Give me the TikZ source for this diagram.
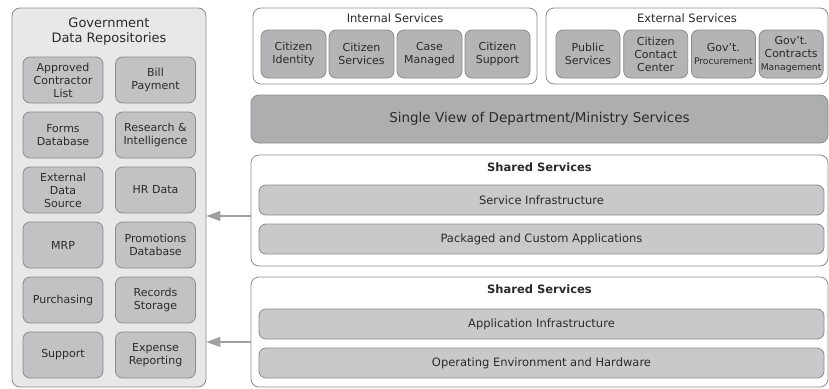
\documentclass[tikz,border=0pt]{standalone}
\usepackage{fontspec}
\setmainfont{DejaVu Sans}
\usepackage{tikz}
\usetikzlibrary{arrows.meta}
\definecolor{ink}{HTML}{2A2A2A}
\definecolor{rule}{HTML}{8C8C8E}
\definecolor{repofill}{HTML}{E8E8E9}
\definecolor{datafill}{HTML}{C2C2C4}
\definecolor{svcfill}{HTML}{B4B4B6}
\definecolor{barfill}{HTML}{C9C9CB}
\definecolor{viewfill}{HTML}{ADAEB0}
\definecolor{feedline}{HTML}{A0A0A2}

\begin{document}
\begin{tikzpicture}[x=1pt,y=-1pt,
  every node/.style={text=ink, inner sep=0pt, align=center},
  frame/.style={draw=rule, line width=0.8pt, rounded corners=8pt, fill=white},
  tile/.style={draw=rule, line width=0.8pt, rounded corners=7pt,
    font=\fontsize{11}{13}\selectfont},
  datatile/.style={tile, fill=datafill, minimum width=80pt, minimum height=46pt},
  svctile/.style={tile, fill=svcfill, minimum width=65pt, minimum height=48pt},
  bar/.style={tile, fill=barfill, minimum width=565pt, minimum height=30pt,
    font=\fontsize{11.5}{13}\selectfont},
  head/.style={font=\fontsize{11.5}{13}\selectfont},
  shared/.style={font=\bfseries\fontsize{11.5}{13}\selectfont},
  feed/.style={draw=feedline, line width=1.2pt,
    -{Triangle[length=14pt,width=10pt,fill=feedline]}},
]
\useasboundingbox (0,0) rectangle (829,388);

% left column: repositories
\node[frame, fill=repofill, minimum width=194pt, minimum height=379pt] (repo) at (109,197.5) {};
\node[font=\fontsize{13}{15}\selectfont] (repotitle) at (109,32) {Government\\Data Repositories};
\foreach \txt [count=\r from 0] in {Approved\\Contractor\\List, Forms\\Database,
  External\\Data\\Source, MRP, Purchasing, Support}
  \node[datatile] (dl\r) at (63,{80+55*\r}) {\txt};
\foreach \txt [count=\r from 0] in {Bill\\Payment, Research \&\\Intelligence,
  HR Data, Promotions\\Database, Records\\Storage, Expense\\Reporting}
  \node[datatile] (dr\r) at (155.5,{80+55*\r}) {\txt};

% top row: internal and external services
\node[frame, minimum width=284pt, minimum height=76pt] (int) at (395,46) {};
\node[head] (inttitle) at (395,18) {Internal Services};
\foreach \txt [count=\k from 0] in {Citizen\\Identity, Citizen\\Services,
  Case\\Managed, Citizen\\Support}
  \node[svctile] (int\k) at ({293.5+68*\k},54) {\txt};

\node[frame, minimum width=282pt, minimum height=76pt] (ext) at (687,46) {};
\node[head] (exttitle) at (687,18) {External Services};
\foreach \txt [count=\k from 0] in {Public\\Services, Citizen\\Contact\\Center,
  Gov’t.\\{\fontsize{9.2}{11}\selectfont Procurement},
  Gov’t.\\Contracts\\{\fontsize{9.2}{11}\selectfont Management}}
  \node[svctile, minimum width=64pt] (ext\k) at ({588+67.7*\k},54) {\txt};

% single view
\node[frame, fill=viewfill, minimum width=577pt, minimum height=48pt,
  font=\fontsize{13.5}{15}\selectfont] (view) at (539.5,119)
  {Single View of Department/Ministry Services};

% shared services
\node[frame, minimum width=577pt, minimum height=111pt] (shA) at (539.5,210.5) {};
\node[shared] (shAtitle) at ([yshift=-13pt]shA.north) {Shared Services};
\node[bar] (svcinf) at (541.5,200) {Service Infrastructure};
\node[bar] (pkgapp) at (541.5,239) {Packaged and Custom Applications};

\node[frame, minimum width=577pt, minimum height=110pt] (shB) at (539.5,332) {};
\node[shared] (shBtitle) at ([yshift=-13pt]shB.north) {Shared Services};
\node[bar] (appinf) at (541.5,324) {Application Infrastructure};
\node[bar] (openv) at (541.5,363) {Operating Environment and Hardware};

\draw[feed] ([yshift=-5.5pt]shA.west) -- ([yshift=-5.5pt]shA.west -| repo.east);
\draw[feed] ([yshift=-10pt]shB.west) -- ([yshift=-10pt]shB.west -| repo.east);
\end{tikzpicture}
\end{document}
